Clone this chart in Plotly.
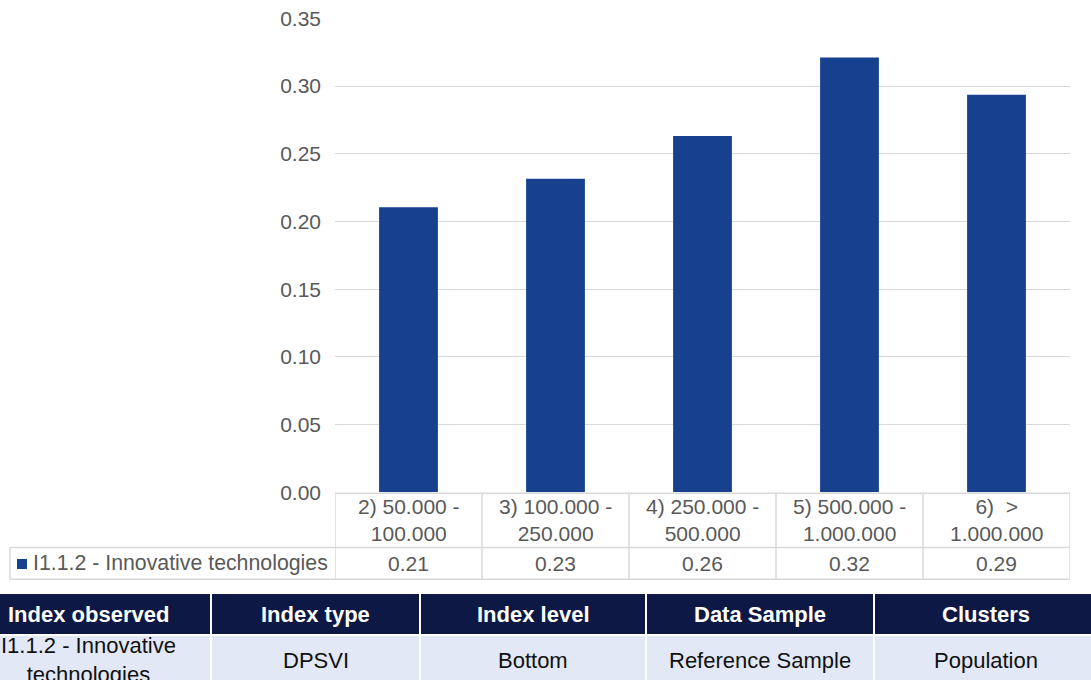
import plotly.graph_objects as go

# Population clusters and the index value for each
categories = ["2) 50.000 -<br>100.000", "3) 100.000 -<br>250.000", "4) 250.000 -<br>500.000",
              "5) 500.000 -<br>1.000.000", "6)  ><br>1.000.000"]
values = [0.2105, 0.2316, 0.263, 0.321, 0.2935]
series_name = "I1.1.2 - Innovative technologies"

# Summary table under the chart
info_headers = ["Index observed", "Index type", "Index level", "Data Sample", "Clusters"]
info_values = ["I1.1.2 - Innovative<br>technologies", "DPSVI", "Bottom", "Reference Sample", "Population"]

W, H = 1091, 680
BAR = "#17418f"
GRAY = "#595959"
GRID = "#d9d9d9"
NAVY = "#0d1944"
LIGHT = "#e2e8f6"
FONT = "Liberation Sans, Arial, sans-serif"


def px(x):
    return x / W


def py(y):
    return 1 - y / H


x_idx = list(range(len(categories)))

fig = go.Figure(go.Bar(
    x=x_idx, y=values, marker=dict(color=BAR, line=dict(width=0)),
    width=0.4, showlegend=False, hoverinfo="skip",
))

plot_top, plot_bottom = 18.3, 492.3
fig.update_layout(
    width=W, height=H, margin=dict(l=0, r=0, t=0, b=0, autoexpand=False),
    paper_bgcolor="white", plot_bgcolor="white",
    font=dict(family=FONT, color=GRAY, size=21),
    xaxis=dict(domain=[px(335), px(1070)], range=[-0.5, len(categories) - 0.5],
               showticklabels=False, showgrid=False, zeroline=False, showline=False,
               automargin=False),
    yaxis=dict(domain=[py(plot_bottom), py(plot_top)], range=[0, 0.35], dtick=0.05,
               tickformat=".2f", showgrid=True, gridcolor=GRID, gridwidth=1.3,
               zeroline=False, showline=False, ticks="", ticklabelstandoff=13,
               tickfont=dict(size=21, color=GRAY), automargin=False),
)

shapes = []
annotations = []

# Data table beneath the plot
row0_top, row1_top, row1_bot = 493.3, 547.5, 579.3
line = dict(color=GRID, width=1.5)
shapes.append(dict(type="line", xref="x", yref="paper", x0=-0.5, x1=len(categories) - 0.5,
                   y0=py(row0_top), y1=py(row0_top), line=line))
for yy in (row1_top, row1_bot):
    shapes.append(dict(type="line", xref="paper", yref="paper", x0=px(10), x1=px(1070),
                       y0=py(yy), y1=py(yy), line=line))
for k in range(len(categories) + 1):
    shapes.append(dict(type="line", xref="x", yref="paper", x0=k - 0.5, x1=k - 0.5,
                       y0=py(row0_top), y1=py(row1_bot), line=line))
shapes.append(dict(type="line", xref="paper", yref="paper", x0=px(10), x1=px(10),
                   y0=py(row1_top), y1=py(row1_bot), line=line))

for i, (cat, val) in enumerate(zip(categories, values)):
    annotations.append(dict(x=i, y=py((row0_top + row1_top) / 2), xref="x", yref="paper",
                            text=cat, showarrow=False, xanchor="center", yanchor="middle",
                            font=dict(size=21, color=GRAY, family=FONT)))
    annotations.append(dict(x=i, y=py((row1_top + row1_bot) / 2), xref="x", yref="paper",
                            text=f"{val:.2f}", showarrow=False, xanchor="center", yanchor="middle",
                            font=dict(size=21, color=GRAY, family=FONT)))

# Legend key in the data table
shapes.append(dict(type="rect", xref="paper", yref="paper", x0=px(17), x1=px(27),
                   y0=py(569), y1=py(559), fillcolor=BAR, line=dict(width=0)))
annotations.append(dict(x=px(31), y=py((row1_top + row1_bot) / 2), xref="paper", yref="paper",
                        text=series_name, showarrow=False, xanchor="left", yanchor="middle",
                        font=dict(size=21.3, color=GRAY, family=FONT)))

# Summary table
col_edges = [(-34, 210), (212, 419), (421, 645), (647, 873), (875, 1097)]
head_top, head_bot, body_top, body_bot = 594, 634, 636, 692
for (x0, x1), head, val in zip(col_edges, info_headers, info_values):
    shapes.append(dict(type="rect", xref="paper", yref="paper", x0=px(x0), x1=px(x1),
                       y0=py(head_bot), y1=py(head_top), fillcolor=NAVY, line=dict(width=0)))
    shapes.append(dict(type="rect", xref="paper", yref="paper", x0=px(x0), x1=px(x1),
                       y0=py(body_bot), y1=py(body_top), fillcolor=LIGHT, line=dict(width=0)))
    cx = (x0 + x1) / 2
    annotations.append(dict(x=px(cx), y=py(614), xref="paper", yref="paper", text=f"<b>{head}</b>",
                            showarrow=False, xanchor="center", yanchor="middle",
                            font=dict(size=22, color="white", family=FONT)))
    annotations.append(dict(x=px(cx), y=py(660), xref="paper", yref="paper", text=val,
                            showarrow=False, xanchor="center", yanchor="middle",
                            font=dict(size=22, color="#111111", family=FONT)))

fig.update_layout(shapes=shapes, annotations=annotations)
fig.write_html("out.html")
